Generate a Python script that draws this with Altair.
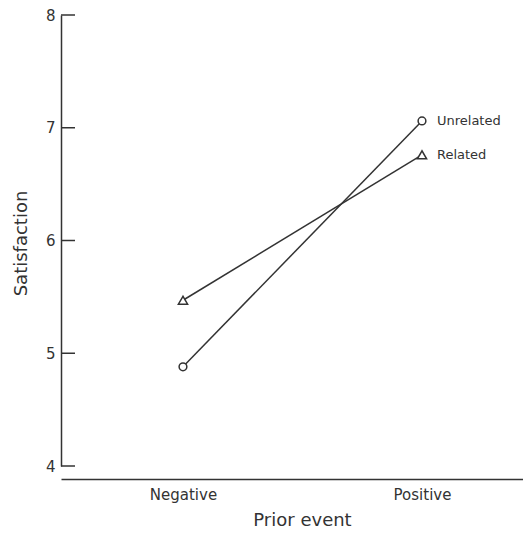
import altair as alt
import pandas as pd

events = ["Negative", "Positive"]
series_names = ["Unrelated", "Related"]
unrelated = [4.88, 7.06]
related = [5.47, 6.76]
y_ticks = [4, 5, 6, 7, 8]
shapes = ["circle", "triangle-up"]

rows = []
for name, vals in zip(series_names, [unrelated, related]):
    for e, v in zip(events, vals):
        rows.append({"event": e, "series": name, "satisfaction": v})
df = pd.DataFrame(rows)
ticks_df = pd.DataFrame({"satisfaction": y_ticks})

INK = "#333333"
FONT = "DejaVu Sans"

yscale = alt.Scale(domain=[4, 8], nice=False, zero=False)

x = alt.X(
    "event:N", sort=events,
    scale=alt.Scale(type="point", padding=0.4665, align=0.547),
    axis=alt.Axis(
        title="Prior event", labelAngle=0, ticks=False, tickSize=0, offset=13,
        domainColor=INK, domainWidth=1.5, labelFont=FONT, labelFontSize=15,
        labelColor=INK, labelPadding=8, titleFont=FONT, titleFontSize=18,
        titleFontWeight="normal", titleColor=INK, titleX=241, titleY=41,
        titleBaseline="middle", titleAlign="center", grid=False,
    ),
)
y = alt.Y(
    "satisfaction:Q", scale=yscale,
    axis=alt.Axis(
        title="Satisfaction", values=y_ticks, ticks=False, tickSize=0,
        domainColor=INK, domainWidth=1.5, labelFont=FONT, labelFontSize=15,
        labelColor=INK, labelPadding=6, titleFont=FONT, titleFontSize=18,
        titleFontWeight="normal", titleColor=INK, titleX=-40, titleY=228,
        titleAngle=270, titleBaseline="middle", titleAlign="center", grid=False,
    ),
)

base = alt.Chart(df)

lines = base.mark_line(color=INK, strokeWidth=1.5).encode(
    x=x, y=y, detail="series:N"
)
points = base.mark_point(filled=True, fill="white", stroke=INK, strokeWidth=1.5, opacity=1).encode(
    x=x, y=y,
    shape=alt.Shape("series:N", scale=alt.Scale(domain=series_names, range=shapes), legend=None),
    size=alt.Size("series:N", scale=alt.Scale(domain=series_names, range=[60, 85]), legend=None),
)
labels = base.transform_filter(alt.datum.event == events[-1]).mark_text(
    align="left", baseline="middle", dx=15, font=FONT, fontSize=13, color=INK
).encode(x=x, y=y, text="series:N")

tick_marks = alt.Chart(ticks_df).mark_rule(color=INK, strokeWidth=1.5).encode(
    y=y,
    x=alt.value(0), x2=alt.value(14),
)

chart = alt.layer(lines, tick_marks, points, labels).properties(
    width=462, height=451,
    autosize=alt.AutoSizeParams(type="none"),
    padding={"left": 53, "top": 7, "right": 0, "bottom": 62},
    background="white",
).configure_view(stroke=None)

chart.save("out.html", embed_options={"renderer": "svg", "actions": False})
